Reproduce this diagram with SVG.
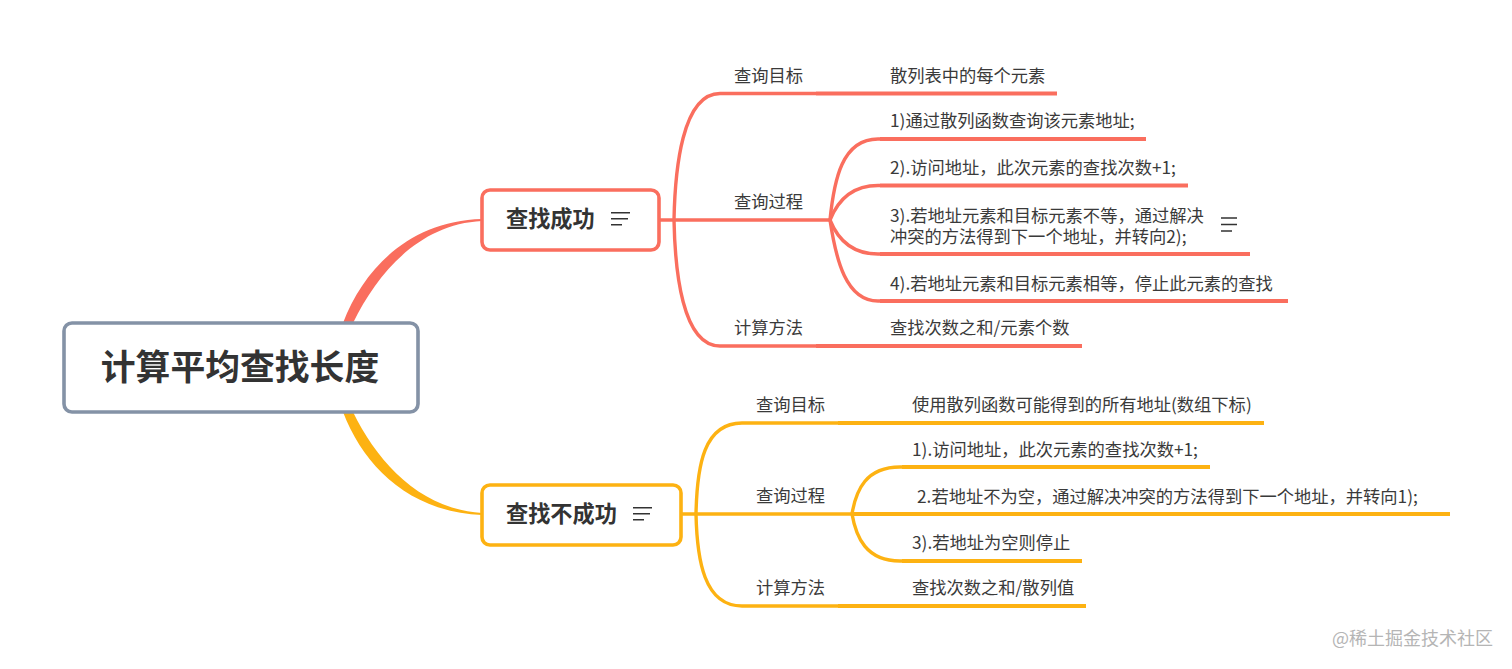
<svg xmlns="http://www.w3.org/2000/svg" width="1512" height="669" viewBox="0 0 1512 669">
<style>
text{font-family:"Noto Sans CJK SC","Liberation Sans",sans-serif;fill:#3a3a3a;font-size:17.27px}
.r{stroke:#fa6e5e}.y{stroke:#fdb212}
.l{fill:none;stroke-width:3.4;stroke-linecap:butt}
.t{fill:none;stroke-width:3.8}
.box{fill:#fff;stroke-width:3.6}
.ic{fill:none;stroke:#333;stroke-width:1.5}
.b{font-weight:700;font-size:22.200px;fill:#333}
</style>
<rect width="1512" height="669" fill="#fff"/>
<g id="connectors">
<path d="M343 323C364 268 410 221 482 219L482 221C420 224 378 272 353 323Z" fill="#fa6e5e"/>
<path d="M343 412C364 467 410 512 482 515L482 513C420 509 378 463 353 412Z" fill="#fdb212"/>
<g class="r l">
<path d="M659 220H830"/>
<path d="M674 220C675 170 682 93.500 720 93.500H816"/>
<path d="M674 220C675 270 682 346 720 346H816"/>
<path d="M830 220C834 180 842 139 878 139H880"/>
<path d="M830 220C838 200 852 185.500 878 185.500H880"/>
<path d="M830 220C838 240 852 254 878 254H880"/>
<path d="M830 220C836 260 846 301 878 301H880"/>
</g>
<g class="r t">
<path d="M816 93.500H1057"/><path d="M816 346H1082"/><path d="M880 139H1146"/><path d="M880 185.500H1188"/><path d="M880 254H1250"/><path d="M880 301H1288"/>
</g>
<g class="y l">
<path d="M681 514H852"/>
<path d="M696 514C697 465 704 423 742 423H838"/>
<path d="M696 514C697 560 704 606 742 606H838"/>
<path d="M852 514C856 490 866 467 900 467H902"/>
<path d="M852 514C856 537 866 561 900 561H902"/>
</g>
<g class="y t">
<path d="M852 514H1450"/><path d="M838 423H1264"/><path d="M838 606H1086"/><path d="M902 467H1210"/><path d="M902 561H1082"/>
</g>
</g>
<g id="root"><rect class="box" x="64" y="323" width="354" height="89" rx="8" stroke="#8492a6"/><text x="240" y="380" text-anchor="middle" style="font-size:34.800px;font-weight:700;fill:#333">计算平均查找长度</text></g>
<g id="success"><rect class="box r" x="482" y="190" width="177" height="60" rx="8"/><text class="b" x="506" y="227">查找成功</text><path class="ic" d="M611 212.700H630M611 218.700H628M611 224.700H622"/></g>
<g id="fail"><rect class="box y" x="482" y="485" width="199" height="60" rx="8"/><text class="b" x="506" y="522">查找不成功</text><path class="ic" d="M633 507.700H652M633 513.700H650M633 519.700H644"/></g>
<g id="s-target"><text x="734" y="81.500">查询目标</text></g>
<g id="s-process"><text x="734" y="207.500">查询过程</text></g>
<g id="s-method"><text x="734" y="334">计算方法</text></g>
<g id="s-target-1"><text x="890" y="81.500">散列表中的每个元素</text></g>
<g id="s-p1"><text x="890" y="126.500">1)通过散列函数查询该元素地址;</text></g>
<g id="s-p2"><text x="890" y="173.500">2).访问地址，此次元素的查找次数+1;</text></g>
<g id="s-p3"><text><tspan x="890" y="221.500">3).若地址元素和目标元素不等，通过解决</tspan><tspan x="890" y="243">冲突的方法得到下一个地址，并转向2);</tspan></text><path class="ic" d="M1221 218H1237M1221 224.500H1237M1221 231H1232"/></g>
<g id="s-p4"><text x="890" y="289.500">4).若地址元素和目标元素相等，停止此元素的查找</text></g>
<g id="s-method-1"><text x="890" y="334">查找次数之和/元素个数</text></g>
<g id="f-target"><text x="756" y="410.500">查询目标</text></g>
<g id="f-process"><text x="756" y="502">查询过程</text></g>
<g id="f-method"><text x="756" y="594">计算方法</text></g>
<g id="f-target-1"><text x="912" y="410.500">使用散列函数可能得到的所有地址(数组下标)</text></g>
<g id="f-p1"><text x="912" y="455.500">1).访问地址，此次元素的查找次数+1;</text></g>
<g id="f-p2"><text x="917" y="502.500">2.若地址不为空，通过解决冲突的方法得到下一个地址，并转向1);</text></g>
<g id="f-p3"><text x="912" y="549">3).若地址为空则停止</text></g>
<g id="f-method-1"><text x="912" y="594">查找次数之和/散列值</text></g>
<text x="1332" y="645" style="fill:#b5b5b5;font-size:18px">@稀土掘金技术社区</text>
</svg>
